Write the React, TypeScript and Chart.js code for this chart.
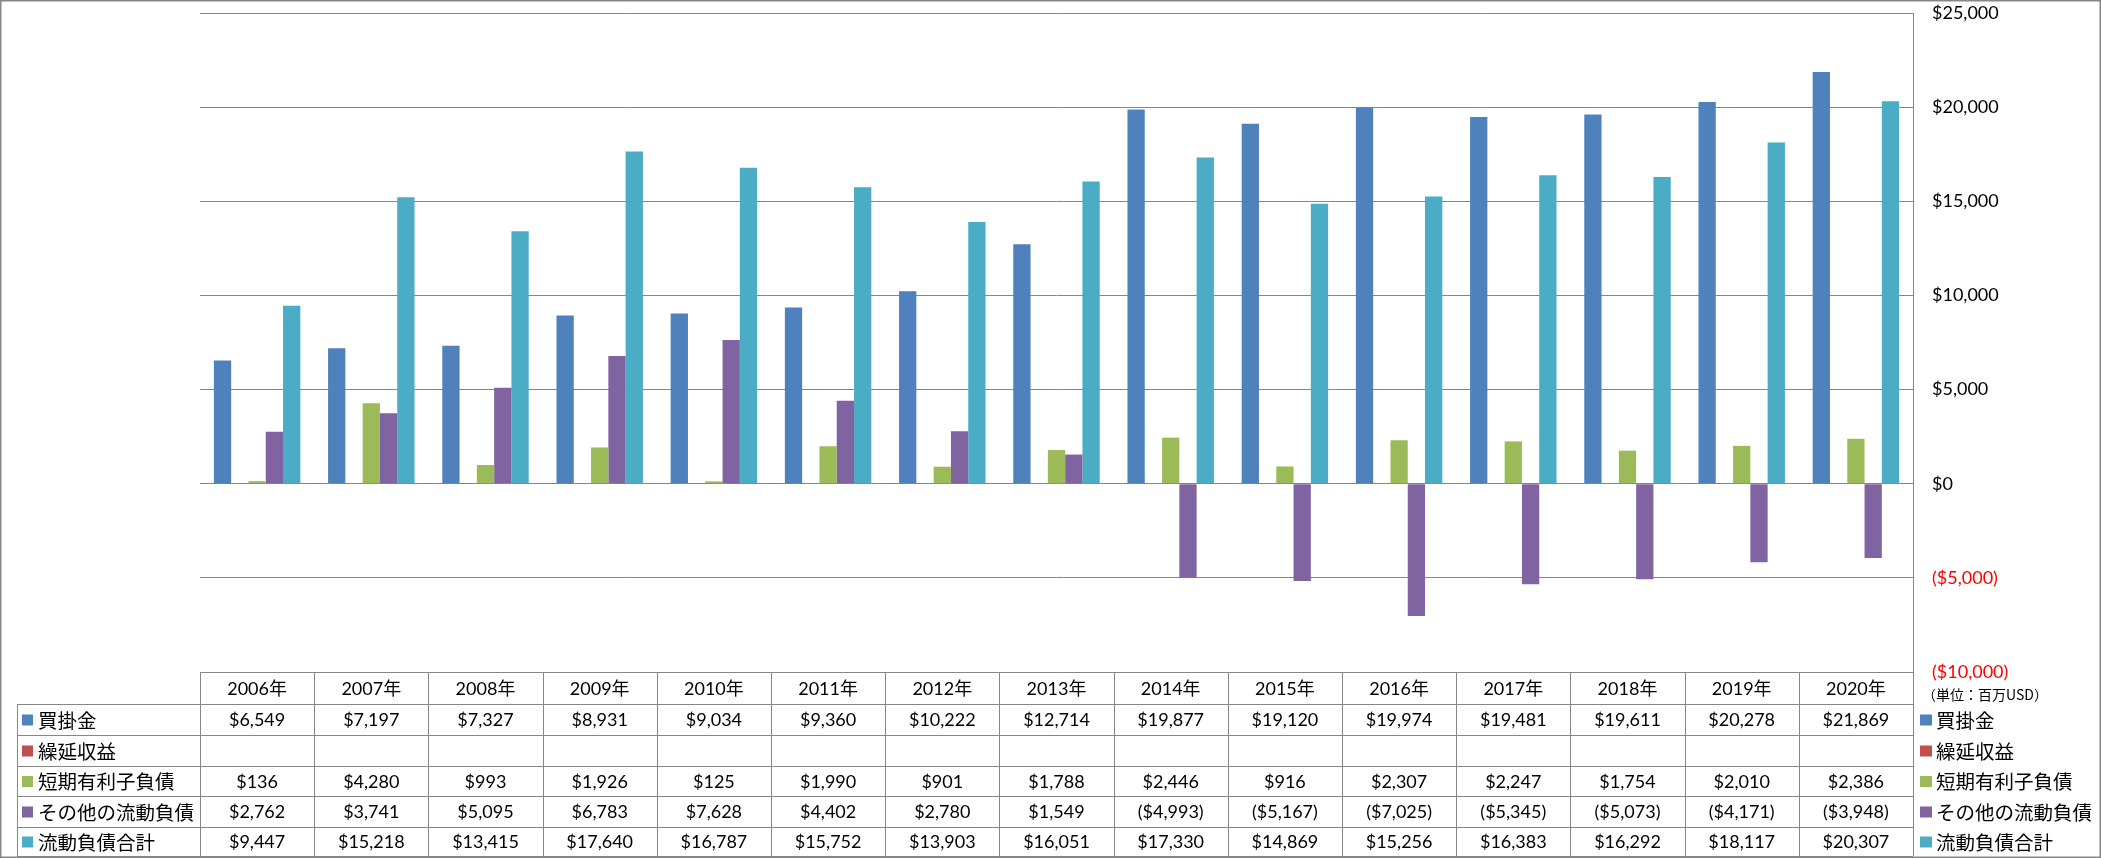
import React, { useEffect, useRef } from "react";
import { Chart, registerables } from "chart.js";

Chart.register(...registerables);

const years = ["2006年", "2007年", "2008年", "2009年", "2010年", "2011年", "2012年", "2013年", "2014年", "2015年", "2016年", "2017年", "2018年", "2019年", "2020年"];
const seriesNames = ["買掛金", "繰延収益", "短期有利子負債", "その他の流動負債", "流動負債合計"];
const seriesColors = ["#4F81BD", "#C0504D", "#9BBB59", "#8064A2", "#4BACC6"];
const accountsPayable = [6549, 7197, 7327, 8931, 9034, 9360, 10222, 12714, 19877, 19120, 19974, 19481, 19611, 20278, 21869];
const deferredRevenue = [null, null, null, null, null, null, null, null, null, null, null, null, null, null, null];
const shortTermDebt = [136, 4280, 993, 1926, 125, 1990, 901, 1788, 2446, 916, 2307, 2247, 1754, 2010, 2386];
const otherCurrent = [2762, 3741, 5095, 6783, 7628, 4402, 2780, 1549, -4993, -5167, -7025, -5345, -5073, -4171, -3948];
const totalCurrent = [9447, 15218, 13415, 17640, 16787, 15752, 13903, 16051, 17330, 14869, 15256, 16383, 16292, 18117, 20307];
const unitLabel = "（単位：百万USD）";

const W = 2101;
const H = 858;
const NUM_FONT = "18px Lato, 'Noto Sans CJK JP'";
const CJK_FONT = "19.5px 'Noto Sans CJK JP'";
const GRID = "#868686";

function fmt(v: number) {
  const s = "$" + Math.abs(v).toLocaleString("en-US");
  return v < 0 ? "(" + s + ")" : s;
}

export default function App() {
  const ref = useRef<HTMLCanvasElement | null>(null);

  useEffect(() => {
    document.body.style.margin = "0";
    document.body.style.overflow = "hidden";
    const canvas = ref.current!;
    const allSeries = [accountsPayable, deferredRevenue, shortTermDebt, otherCurrent, totalCurrent];

    const tablePlugin = {
      id: "tablePlugin",
      afterDraw(chart: any) {
        const ctx = chart.ctx as CanvasRenderingContext2D;
        const xs = chart.scales.x;
        const area = chart.chartArea;
        const rowY = [672, 704, 735, 766, 796, 827, 856];
        const n = years.length;
        const bounds: number[] = [area.left];
        for (let i = 1; i < n; i++) {
          bounds.push((xs.getPixelForValue(i - 1) + xs.getPixelForValue(i)) / 2);
        }
        bounds.push(area.right);
        const leftX = 17;

        ctx.save();
        ctx.strokeStyle = GRID;
        ctx.lineWidth = 1;
        ctx.beginPath();
        ctx.moveTo(area.left, Math.round(rowY[0]) + 0.5);
        ctx.lineTo(area.right, Math.round(rowY[0]) + 0.5);
        for (let r = 1; r < rowY.length; r++) {
          ctx.moveTo(leftX, rowY[r] + 0.5);
          ctx.lineTo(area.right, rowY[r] + 0.5);
        }
        for (const b of bounds) {
          const bx = Math.round(b) + 0.5;
          ctx.moveTo(bx, rowY[0]);
          ctx.lineTo(bx, rowY[6]);
        }
        ctx.moveTo(leftX + 0.5, rowY[1]);
        ctx.lineTo(leftX + 0.5, rowY[6]);
        ctx.stroke();

        ctx.fillStyle = "#000";
        ctx.textAlign = "center";
        ctx.textBaseline = "middle";
        ctx.font = NUM_FONT;
        for (let i = 0; i < n; i++) {
          const cx = xs.getPixelForValue(i);
          ctx.fillText(years[i], cx, (rowY[0] + rowY[1]) / 2 + 1);
        }
        for (let s = 0; s < allSeries.length; s++) {
          const cy = (rowY[s + 1] + rowY[s + 2]) / 2 + 1;
          for (let i = 0; i < n; i++) {
            const v = allSeries[s][i];
            if (v === null || v === undefined) continue;
            ctx.fillText(fmt(v as number), xs.getPixelForValue(i), cy);
          }
          ctx.fillStyle = seriesColors[s];
          ctx.fillRect(22, cy - 6, 11, 11);
          ctx.fillStyle = "#000";
          ctx.textAlign = "left";
          ctx.font = CJK_FONT;
          ctx.fillText(seriesNames[s], 38, cy);
          ctx.fillStyle = seriesColors[s];
          ctx.fillRect(1920, cy - 6, 12, 11);
          ctx.fillStyle = "#000";
          ctx.fillText(seriesNames[s], 1936, cy);
          ctx.textAlign = "center";
          ctx.font = NUM_FONT;
        }
        ctx.textAlign = "left";
        ctx.font = "14px 'Noto Sans CJK JP'";
        ctx.fillText(unitLabel, 1922, 695);

        ctx.strokeStyle = GRID;
        ctx.lineWidth = 1.5;
        ctx.strokeRect(0.75, 0.75, W - 1.5, H - 1.5);
        ctx.restore();
      },
    };

    const chart = new Chart(canvas, {
      type: "bar",
      data: {
        labels: years,
        datasets: seriesNames.map((name, i) => ({
          label: name,
          data: allSeries[i] as any,
          backgroundColor: seriesColors[i],
          borderWidth: 0,
          categoryPercentage: 0.757,
          barPercentage: 1,
        })),
      },
      options: {
        responsive: false,
        animation: false,
        devicePixelRatio: 1,
        layout: { padding: { left: 200, top: 13, right: 0, bottom: 186 } },
        plugins: { legend: { display: false }, tooltip: { enabled: false }, title: { display: false } },
        scales: {
          x: { display: false },
          y: {
            position: "right",
            min: -10000,
            max: 25000,
            ticks: {
              stepSize: 5000,
              padding: 19,
              font: { family: "Lato", size: 18 },
              color: (c: any) => (c.tick && c.tick.value < 0 ? "#FF0000" : "#000000"),
              callback: (v: any) => fmt(Number(v)),
            },
            grid: { color: GRID, lineWidth: 1, drawTicks: false },
            border: { display: true, color: GRID, width: 1 },
            afterFit: (s: any) => {
              s.width = 188;
              s.paddingTop = 0;
              s.paddingBottom = 0;
            },
          },
        },
      },
      plugins: [tablePlugin],
    });
    return () => chart.destroy();
  }, []);

  return (
    <div style={{ position: "absolute", left: 0, top: 0, width: W, height: H, background: "#fff" }}>
      <canvas ref={ref} width={W} height={H} style={{ display: "block" }} />
    </div>
  );
}
